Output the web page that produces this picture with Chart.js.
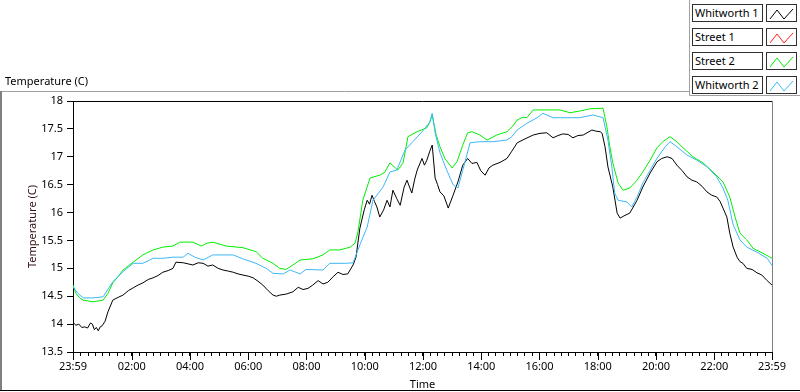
<!DOCTYPE html>
<html>
<head>
<meta charset="utf-8">
<script src="https://cdn.jsdelivr.net/npm/chart.js@4.4.0/dist/chart.umd.min.js"></script>
<style>
    body { margin: 0; background: #fff; font-family: "Noto Sans", sans-serif; }
    #wrap { position: relative; width: 800px; height: 392px; overflow: hidden; }
    #chart { position: absolute; left: 0; top: 0; }
    #plotTitle { position: absolute; left: 5px; top: 73px; font-size: 11px; color: #000; }
    .legRow { position: absolute; left: 692px; height: 17px; }
    .legName { position: absolute; left: 0; top: 0; border: 1px solid #303030;
        font-size: 11px; line-height: 16px; padding-left: 2px; box-sizing: border-box; width: 71px; height: 18px; background: #fff; }
    .legIcon { position: absolute; left: 74px; top: 0; width: 31px; height: 18px; border: 1px solid #303030; box-sizing: border-box; background: #fff; }
</style>
</head>
<body>
<div id="wrap">
    <canvas id="chart" width="800" height="392"></canvas>
    <div id="plotTitle">Temperature (C)</div>
    <div id="legend"></div>
</div>
<script>
// ชื่อซีรีส์และสี
const seriesNames = ['Whitworth 1', 'Street 1', 'Street 2', 'Whitworth 2'];
const seriesColors = ['#000000', '#ff2020', '#00ee00', '#3cb8f8'];

// เวลาเป็นนาทีนับจาก 23:59
const w1Time = [0, 6, 12, 18, 24, 30, 36, 40, 44, 48, 52, 56, 60, 66, 72, 82, 93, 103, 114, 124, 134, 144, 155, 165, 175, 185, 196, 206, 212, 227, 237, 247, 258, 268, 278, 288, 299, 309, 320, 330, 340, 350, 361, 371, 381, 391, 402, 412, 419, 426, 440, 453, 464, 474, 484, 494, 505, 515, 525, 536, 546, 556, 566, 577, 583, 591, 600, 606, 611, 616, 621, 626, 632, 640, 647, 653, 659, 667, 674, 682, 688, 698, 704, 709, 719, 724, 729, 735, 740, 746, 751, 756, 764, 773, 783, 793, 803, 813, 822, 832, 840, 849, 857, 865, 880, 894, 904, 915, 931, 948, 962, 976, 989, 999, 1009, 1020, 1030, 1040, 1051, 1061, 1069, 1077, 1086, 1090, 1096, 1102, 1112, 1121, 1127, 1135, 1147, 1162, 1174, 1189, 1203, 1213, 1224, 1234, 1244, 1255, 1265, 1275, 1285, 1296, 1306, 1316, 1326, 1333, 1339, 1347, 1353, 1360, 1368, 1374, 1380, 1388, 1399, 1409, 1419, 1430, 1440];
const w1Temp = [14.03, 13.98, 14.0, 13.94, 13.95, 13.93, 14.02, 14.0, 13.9, 13.94, 13.88, 13.95, 13.97, 14.05, 14.22, 14.43, 14.48, 14.52, 14.6, 14.65, 14.7, 14.74, 14.8, 14.83, 14.87, 14.93, 14.96, 15.0, 15.11, 15.1, 15.08, 15.06, 15.1, 15.09, 15.04, 15.06, 15.0, 14.97, 14.95, 14.93, 14.9, 14.88, 14.86, 14.83, 14.77, 14.7, 14.6, 14.52, 14.5, 14.52, 14.54, 14.58, 14.66, 14.62, 14.64, 14.7, 14.78, 14.72, 14.75, 14.85, 14.93, 14.89, 14.9, 15.06, 15.2, 15.72, 16.05, 16.22, 16.15, 16.31, 16.2, 16.1, 15.92, 16.05, 16.22, 16.1, 16.4, 16.25, 16.13, 16.45, 16.58, 16.35, 16.6, 16.76, 16.97, 16.85, 16.94, 17.1, 17.21, 16.62, 16.5, 16.37, 16.3, 16.08, 16.31, 16.55, 16.85, 16.97, 16.88, 16.9, 16.75, 16.67, 16.8, 16.85, 16.9, 16.97, 17.1, 17.25, 17.32, 17.39, 17.42, 17.43, 17.34, 17.38, 17.41, 17.4, 17.34, 17.38, 17.39, 17.44, 17.48, 17.46, 17.45, 17.42, 17.18, 16.82, 16.46, 15.99, 15.9, 15.94, 15.99, 16.22, 16.46, 16.71, 16.91, 16.97, 17.0, 16.97, 16.85, 16.75, 16.64, 16.58, 16.55, 16.47, 16.37, 16.31, 16.28, 16.2, 16.08, 15.92, 15.63, 15.38, 15.2, 15.12, 15.09, 15.0, 14.98, 14.92, 14.88, 14.78, 14.7];

const s1Time = [];
const s1Temp = [];

const s2Time = [0, 6, 14, 21, 41, 62, 72, 82, 93, 103, 124, 144, 165, 185, 206, 220, 247, 264, 276, 288, 315, 350, 377, 391, 412, 426, 439, 453, 468, 494, 515, 529, 550, 571, 581, 587, 597, 612, 632, 642, 653, 669, 680, 690, 709, 729, 735, 740, 748, 756, 766, 781, 791, 803, 813, 822, 838, 853, 873, 894, 906, 915, 927, 935, 948, 976, 1003, 1024, 1044, 1065, 1092, 1100, 1106, 1112, 1123, 1133, 1147, 1162, 1174, 1189, 1203, 1215, 1230, 1244, 1257, 1277, 1298, 1318, 1339, 1353, 1364, 1374, 1388, 1401, 1421, 1432, 1440];
const s2Temp = [14.7, 14.55, 14.47, 14.43, 14.4, 14.43, 14.55, 14.74, 14.85, 14.97, 15.11, 15.24, 15.33, 15.38, 15.4, 15.47, 15.47, 15.4, 15.45, 15.47, 15.4, 15.37, 15.3, 15.18, 15.09, 15.0, 14.98, 15.06, 15.15, 15.17, 15.24, 15.33, 15.33, 15.38, 15.45, 15.65, 16.22, 16.62, 16.67, 16.72, 16.89, 16.76, 16.89, 17.36, 17.45, 17.52, 17.62, 17.75, 17.4, 17.18, 16.97, 16.8, 16.91, 17.21, 17.43, 17.45, 17.39, 17.3, 17.39, 17.45, 17.55, 17.66, 17.71, 17.7, 17.84, 17.84, 17.84, 17.79, 17.82, 17.86, 17.87, 17.53, 17.18, 16.89, 16.53, 16.4, 16.44, 16.58, 16.73, 16.94, 17.16, 17.27, 17.36, 17.27, 17.16, 17.0, 16.89, 16.73, 16.55, 16.28, 15.92, 15.63, 15.51, 15.36, 15.27, 15.22, 15.18];

const w2Time = [0, 10, 21, 41, 62, 82, 103, 124, 144, 165, 185, 206, 227, 237, 251, 268, 288, 330, 350, 377, 398, 412, 433, 447, 468, 480, 515, 529, 562, 577, 591, 606, 618, 639, 653, 667, 684, 700, 719, 735, 740, 746, 756, 770, 783, 793, 803, 818, 838, 865, 894, 904, 915, 935, 956, 968, 989, 1018, 1044, 1071, 1092, 1102, 1110, 1116, 1123, 1141, 1151, 1162, 1174, 1189, 1203, 1220, 1230, 1244, 1265, 1285, 1306, 1326, 1339, 1349, 1360, 1374, 1388, 1409, 1430, 1440];
const w2Temp = [14.67, 14.55, 14.47, 14.47, 14.49, 14.76, 14.94, 15.09, 15.09, 15.18, 15.18, 15.2, 15.2, 15.27, 15.2, 15.15, 15.24, 15.24, 15.17, 15.09, 15.0, 14.91, 14.9, 14.97, 14.9, 14.98, 14.97, 15.09, 15.09, 15.1, 15.42, 15.74, 16.22, 16.46, 16.73, 16.76, 17.12, 17.27, 17.45, 17.62, 17.78, 17.43, 17.07, 16.76, 16.5, 16.44, 16.76, 17.25, 17.27, 17.27, 17.3, 17.36, 17.48, 17.6, 17.7, 17.78, 17.7, 17.7, 17.7, 17.75, 17.7, 17.3, 16.82, 16.35, 16.22, 16.19, 16.1, 16.28, 16.53, 16.76, 16.97, 17.18, 17.27, 17.18, 17.03, 16.94, 16.82, 16.64, 16.44, 16.22, 15.78, 15.51, 15.38, 15.29, 15.18, 15.05];

// แกน
const yTicks = [13.5, 14, 14.5, 15, 15.5, 16, 16.5, 17, 17.5, 18];
const xTickValues = [0, 121, 241, 361, 481, 601, 721, 841, 961, 1081, 1201, 1321, 1440];
const xTickLabels = ['23:59', '02:00', '04:00', '06:00', '08:00', '10:00', '12:00', '14:00', '16:00', '18:00', '20:00', '22:00', '23:59'];

const FONT = { family: 'Noto Sans', size: 11 };

function toPoints(times, temps) {
    return times.map((t, i) => ({ x: t, y: temps[i] }));
}

// เส้นกรอบ และขีดหลักที่ยาวกว่า
const framePlugin = {
    id: 'frame',
    afterDraw(chart) {
        const ctx = chart.ctx;
        const a = chart.chartArea;
        const xs = chart.scales.x;
        ctx.save();
        ctx.lineWidth = 1;
        ctx.strokeStyle = '#000';
        ctx.beginPath();
        ctx.moveTo(a.left, a.top + 0.5);
        ctx.lineTo(a.right, a.top + 0.5);
        ctx.stroke();
        ctx.strokeStyle = '#808080';
        ctx.beginPath();
        ctx.moveTo(a.right + 0.5, a.top);
        ctx.lineTo(a.right + 0.5, a.bottom + 1);
        ctx.stroke();
        // ขีดหลักบนแกนเวลา
        ctx.strokeStyle = '#000';
        xTickValues.forEach(v => {
            const px = Math.round(xs.getPixelForValue(v)) + 0.5;
            ctx.beginPath();
            ctx.moveTo(px, a.bottom);
            ctx.lineTo(px, a.bottom + 8);
            ctx.stroke();
        });
        // กรอบแผง
        ctx.strokeStyle = '#a0a0a0';
        ctx.beginPath();
        ctx.moveTo(0, 91.5);
        ctx.lineTo(689.5, 91.5);
        ctx.moveTo(689.5, 0);
        ctx.lineTo(689.5, 95.5);
        ctx.lineTo(800, 95.5);
        ctx.stroke();
        ctx.strokeStyle = '#808080';
        ctx.lineWidth = 2;
        ctx.beginPath();
        ctx.moveTo(1, 91);
        ctx.lineTo(1, 391);
        ctx.stroke();
        ctx.lineWidth = 1;
        ctx.strokeStyle = '#000';
        ctx.beginPath();
        ctx.moveTo(0, 390.5);
        ctx.lineTo(800, 390.5);
        ctx.stroke();
        ctx.restore();
    }
};

const datasets = [
    { label: seriesNames[0], data: toPoints(w1Time, w1Temp), borderColor: seriesColors[0], order: 3 },
    { label: seriesNames[1], data: toPoints(s1Time, s1Temp), borderColor: seriesColors[1], order: 2 },
    { label: seriesNames[2], data: toPoints(s2Time, s2Temp), borderColor: seriesColors[2], order: 1 },
    { label: seriesNames[3], data: toPoints(w2Time, w2Temp), borderColor: seriesColors[3], order: 0 },
].map(d => Object.assign(d, { borderWidth: 1, pointRadius: 0, tension: 0, fill: false }));

new Chart(document.getElementById('chart').getContext('2d'), {
    type: 'line',
    data: { datasets },
    options: {
        responsive: false,
        animation: false,
        devicePixelRatio: 1,
        layout: { padding: { left: 0, top: 101, right: 28, bottom: 0 } },
        plugins: { legend: { display: false }, tooltip: { enabled: false } },
        scales: {
            x: {
                type: 'linear',
                min: 0,
                max: 1440,
                afterFit(scale) { scale.height = 40; },
                afterBuildTicks(scale) {
                    const ticks = [{ value: 0 }];
                    for (let m = 1; m < 1440; m += 15) ticks.push({ value: m });
                    xTickValues.forEach(v => { if (!ticks.some(t => t.value === v)) ticks.push({ value: v }); });
                    ticks.sort((p, q) => p.value - q.value);
                    scale.ticks = ticks;
                },
                grid: { drawOnChartArea: false, drawTicks: true, tickLength: 4, color: '#000' },
                border: { display: true, color: '#000', width: 1 },
                ticks: {
                    autoSkip: false,
                    maxRotation: 0,
                    padding: 4,
                    color: '#000',
                    font: FONT,
                    callback(value) {
                        const i = xTickValues.indexOf(value);
                        return i >= 0 ? xTickLabels[i] : '';
                    }
                },
                title: { display: true, text: 'Time', color: '#000', font: FONT, padding: { top: 0, bottom: 1 } }
            },
            y: {
                min: 13.5,
                max: 18,
                afterFit(scale) { scale.width = 73; },
                afterBuildTicks(scale) { scale.ticks = yTicks.map(v => ({ value: v })); },
                grid: { drawOnChartArea: false, drawTicks: true, tickLength: 6, color: '#000' },
                border: { display: true, color: '#000', width: 1 },
                ticks: { padding: 4, color: '#000', font: FONT, callback: v => String(v) },
                title: { display: true, text: 'Temperature (C)', color: '#301010', font: FONT, padding: { top: 26, bottom: 0 } }
            }
        }
    },
    plugins: [framePlugin]
});

// คำอธิบายสัญลักษณ์
const legend = document.getElementById('legend');
seriesNames.forEach((name, i) => {
    const row = document.createElement('div');
    row.className = 'legRow';
    row.style.top = (4 + i * 24) + 'px';
    row.innerHTML = `<div class="legName">${name}</div>
        <div class="legIcon"><svg width="29" height="16"><polyline points="3,13 10,4 17,13 26,3" fill="none" stroke="${seriesColors[i]}" stroke-width="1"/></svg></div>`;
    legend.appendChild(row);
});
</script>
</body>
</html>
